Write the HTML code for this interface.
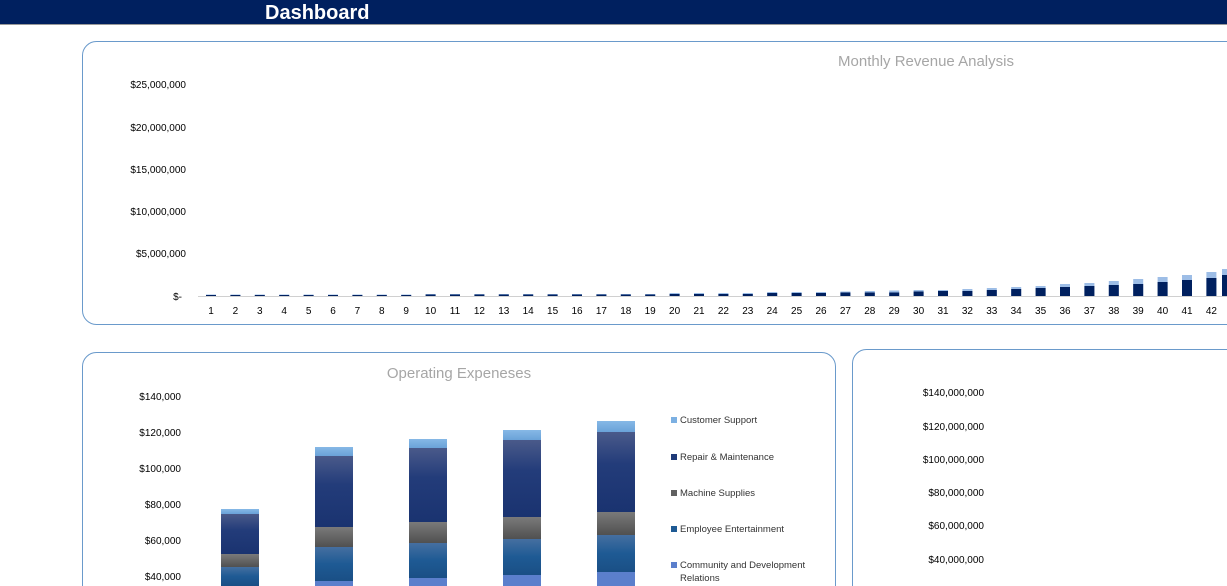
<!DOCTYPE html>
<html><head><meta charset="utf-8"><style>
body{margin:0;width:1227px;height:586px;overflow:hidden;background:#fff;font-family:"Liberation Sans",Calibri,sans-serif}
svg{position:absolute;left:0;top:0}
</style></head><body>
<svg width="1227" height="586" xmlns="http://www.w3.org/2000/svg" font-family="Liberation Sans, sans-serif">
<defs>
<linearGradient id="gn" x1="0" y1="0" x2="0" y2="1"><stop offset="0" stop-color="#4a5a8a"/><stop offset="0.4" stop-color="#233c7a"/><stop offset="1" stop-color="#1a3370"/></linearGradient>
<linearGradient id="gg" x1="0" y1="0" x2="0" y2="1"><stop offset="0" stop-color="#7a7a7a"/><stop offset="1" stop-color="#505050"/></linearGradient>
<linearGradient id="gb" x1="0" y1="0" x2="0" y2="1"><stop offset="0" stop-color="#456fa0"/><stop offset="0.5" stop-color="#1e5a94"/><stop offset="1" stop-color="#1a4f85"/></linearGradient>
<linearGradient id="gl" x1="0" y1="0" x2="0" y2="1"><stop offset="0" stop-color="#86b8e6"/><stop offset="1" stop-color="#6aa2d8"/></linearGradient>
</defs>
<rect x="0" y="0" width="1227" height="24" fill="#00205f"/>
<line x1="0" y1="24.5" x2="1227" y2="24.5" stroke="#999"/>
<text x="265" y="19" fill="#fff" font-size="20" font-weight="bold">Dashboard</text>

<rect x="82.5" y="41.5" width="1160" height="283" rx="14" fill="#fff" stroke="#6a9acb"/>
<text x="926" y="66" fill="#a6a6a6" font-size="15" text-anchor="middle">Monthly Revenue Analysis</text>
<g font-size="10" fill="#000" text-anchor="end">
<text x="186" y="88">$25,000,000</text><text x="186" y="131">$20,000,000</text><text x="186" y="173">$15,000,000</text><text x="186" y="215">$10,000,000</text><text x="186" y="257">$5,000,000</text><text x="182" y="300">$-</text>
</g>
<line x1="198" y1="296.5" x2="1227" y2="296.5" stroke="#d0d0d0"/>
<g font-size="10" text-anchor="middle">
<text x="211" y="314">1</text><text x="235.4" y="314">2</text><text x="259.8" y="314">3</text><text x="284.2" y="314">4</text><text x="308.6" y="314">5</text><text x="333" y="314">6</text><text x="357.4" y="314">7</text><text x="381.8" y="314">8</text><text x="406.2" y="314">9</text><text x="430.6" y="314">10</text><text x="455" y="314">11</text><text x="479.4" y="314">12</text><text x="503.8" y="314">13</text><text x="528.2" y="314">14</text><text x="552.6" y="314">15</text><text x="577" y="314">16</text><text x="601.4" y="314">17</text><text x="625.8" y="314">18</text><text x="650.2" y="314">19</text><text x="674.6" y="314">20</text><text x="699" y="314">21</text><text x="723.4" y="314">22</text><text x="747.8" y="314">23</text><text x="772.2" y="314">24</text><text x="796.6" y="314">25</text><text x="821" y="314">26</text><text x="845.4" y="314">27</text><text x="869.8" y="314">28</text><text x="894.2" y="314">29</text><text x="918.6" y="314">30</text><text x="943" y="314">31</text><text x="967.4" y="314">32</text><text x="991.8" y="314">33</text><text x="1016.2" y="314">34</text><text x="1040.6" y="314">35</text><text x="1065" y="314">36</text><text x="1089.4" y="314">37</text><text x="1113.8" y="314">38</text><text x="1138.2" y="314">39</text><text x="1162.6" y="314">40</text><text x="1187" y="314">41</text><text x="1211.4" y="314">42</text><text x="1235.8" y="314">43</text>
</g>
<g>
<!-- bars: light total then navy -->
<g fill="#9dbde6">
<rect x="206" y="294.5" width="10" height="1.5"/><rect x="230.4" y="294.5" width="10" height="1.5"/><rect x="254.8" y="294.5" width="10" height="1.5"/><rect x="279.2" y="294.5" width="10" height="1.5"/><rect x="303.6" y="294.5" width="10" height="1.5"/><rect x="328" y="294.5" width="10" height="1.5"/><rect x="352.4" y="294.5" width="10" height="1.5"/><rect x="376.8" y="294.5" width="10" height="1.5"/><rect x="401.2" y="294.5" width="10" height="1.5"/><rect x="425.6" y="294" width="10" height="2"/><rect x="450" y="294" width="10" height="2"/><rect x="474.4" y="294" width="10" height="2"/><rect x="498.8" y="294" width="10" height="2"/><rect x="523.2" y="294" width="10" height="2"/><rect x="547.6" y="294" width="10" height="2"/><rect x="572" y="294" width="10" height="2"/><rect x="596.4" y="294" width="10" height="2"/><rect x="620.8" y="294" width="10" height="2"/><rect x="645.2" y="294" width="10" height="2"/>
<rect x="669.6" y="293" width="10" height="3"/><rect x="694" y="293" width="10" height="3"/><rect x="718.4" y="293" width="10" height="3"/><rect x="742.8" y="293" width="10" height="3"/><rect x="767.2" y="292" width="10" height="4"/><rect x="791.6" y="292" width="10" height="4"/><rect x="816" y="292" width="10" height="4"/><rect x="840.4" y="291.5" width="10" height="4.5"/><rect x="864.8" y="291" width="10" height="5"/><rect x="889.2" y="290.5" width="10" height="5.5"/><rect x="913.6" y="290" width="10" height="6"/><rect x="938" y="290" width="10" height="6"/><rect x="962.4" y="289" width="10" height="7"/><rect x="986.8" y="288" width="10" height="8"/><rect x="1011.2" y="287" width="10" height="9"/><rect x="1035.6" y="286" width="10" height="10"/><rect x="1060" y="284" width="10" height="12"/><rect x="1084.4" y="283" width="10" height="13"/><rect x="1108.8" y="281" width="10" height="15"/><rect x="1133.2" y="279" width="10" height="17"/><rect x="1157.6" y="277" width="10" height="19"/><rect x="1182" y="275" width="10" height="21"/><rect x="1206.4" y="272" width="10" height="24"/><rect x="1222" y="269" width="10" height="27"/>
</g>
<g fill="#00205f">
<rect x="206" y="295" width="10" height="1"/><rect x="230.4" y="295" width="10" height="1"/><rect x="254.8" y="295" width="10" height="1"/><rect x="279.2" y="295" width="10" height="1"/><rect x="303.6" y="295" width="10" height="1"/><rect x="328" y="295" width="10" height="1"/><rect x="352.4" y="295" width="10" height="1"/><rect x="376.8" y="295" width="10" height="1"/><rect x="401.2" y="295" width="10" height="1"/><rect x="425.6" y="294.5" width="10" height="1.5"/><rect x="450" y="294.5" width="10" height="1.5"/><rect x="474.4" y="294.5" width="10" height="1.5"/><rect x="498.8" y="294.5" width="10" height="1.5"/><rect x="523.2" y="294.5" width="10" height="1.5"/><rect x="547.6" y="294.5" width="10" height="1.5"/><rect x="572" y="294.5" width="10" height="1.5"/><rect x="596.4" y="294.5" width="10" height="1.5"/><rect x="620.8" y="294.5" width="10" height="1.5"/><rect x="645.2" y="294.5" width="10" height="1.5"/>
<rect x="669.6" y="294" width="10" height="2"/><rect x="694" y="294" width="10" height="2"/><rect x="718.4" y="294" width="10" height="2"/><rect x="742.8" y="294" width="10" height="2"/><rect x="767.2" y="293" width="10" height="3"/><rect x="791.6" y="293" width="10" height="3"/><rect x="816" y="293" width="10" height="3"/><rect x="840.4" y="292.5" width="10" height="3.5"/><rect x="864.8" y="292.5" width="10" height="3.5"/><rect x="889.2" y="292.5" width="10" height="3.5"/><rect x="913.6" y="291.5" width="10" height="4.5"/><rect x="938" y="291" width="10" height="5"/><rect x="962.4" y="291" width="10" height="5"/><rect x="986.8" y="290" width="10" height="6"/><rect x="1011.2" y="289" width="10" height="7"/><rect x="1035.6" y="288" width="10" height="8"/><rect x="1060" y="287" width="10" height="9"/><rect x="1084.4" y="286" width="10" height="10"/><rect x="1108.8" y="285" width="10" height="11"/><rect x="1133.2" y="284" width="10" height="12"/><rect x="1157.6" y="282" width="10" height="14"/><rect x="1182" y="280" width="10" height="16"/><rect x="1206.4" y="278" width="10" height="18"/><rect x="1222" y="275" width="10" height="21"/>
</g>
</g>

<rect x="82.5" y="352.5" width="753" height="260" rx="14" fill="#fff" stroke="#6a9acb"/>
<text x="459" y="378" fill="#a6a6a6" font-size="15" text-anchor="middle">Operating Expeneses</text>
<g font-size="10" text-anchor="end">
<text x="181" y="400">$140,000</text><text x="181" y="436">$120,000</text><text x="181" y="472">$100,000</text><text x="181" y="508">$80,000</text><text x="181" y="544">$60,000</text><text x="181" y="580">$40,000</text>
</g>
<g>
<!-- bar1 -->
<rect x="221" y="509" width="38" height="5" fill="url(#gl)"/><rect x="221" y="514" width="38" height="40" fill="url(#gn)"/><rect x="221" y="554" width="38" height="13" fill="url(#gg)"/><rect x="221" y="567" width="38" height="19" fill="url(#gb)"/>
<rect x="315" y="447" width="38" height="9" fill="url(#gl)"/><rect x="315" y="456" width="38" height="71" fill="url(#gn)"/><rect x="315" y="527" width="38" height="20" fill="url(#gg)"/><rect x="315" y="547" width="38" height="34" fill="url(#gb)"/><rect x="315" y="581" width="38" height="5" fill="#5b7fcc"/>
<rect x="409" y="439" width="38" height="9" fill="url(#gl)"/><rect x="409" y="448" width="38" height="74" fill="url(#gn)"/><rect x="409" y="522" width="38" height="21" fill="url(#gg)"/><rect x="409" y="543" width="38" height="35" fill="url(#gb)"/><rect x="409" y="578" width="38" height="8" fill="#5b7fcc"/>
<rect x="503" y="430" width="38" height="10" fill="url(#gl)"/><rect x="503" y="440" width="38" height="77" fill="url(#gn)"/><rect x="503" y="517" width="38" height="22" fill="url(#gg)"/><rect x="503" y="539" width="38" height="36" fill="url(#gb)"/><rect x="503" y="575" width="38" height="11" fill="#5b7fcc"/>
<rect x="597" y="421" width="38" height="11" fill="url(#gl)"/><rect x="597" y="432" width="38" height="80" fill="url(#gn)"/><rect x="597" y="512" width="38" height="23" fill="url(#gg)"/><rect x="597" y="535" width="38" height="37" fill="url(#gb)"/><rect x="597" y="572" width="38" height="14" fill="#5b7fcc"/>
</g>
<g font-size="9.5" fill="#333">
<rect x="671" y="417" width="6" height="6" fill="#7cb0e2"/><text x="680" y="423">Customer Support</text>
<rect x="671" y="454" width="6" height="6" fill="#1f3a78"/><text x="680" y="460">Repair &amp; Maintenance</text>
<rect x="671" y="490" width="6" height="6" fill="#606060"/><text x="680" y="496">Machine Supplies</text>
<rect x="671" y="526" width="6" height="6" fill="#1e5a94"/><text x="680" y="532">Employee Entertainment</text>
<rect x="671" y="562" width="6" height="6" fill="#5b7fcc"/><text x="680" y="568">Community and Development</text><text x="680" y="581">Relations</text>
</g>

<rect x="852.5" y="349.5" width="400" height="260" rx="14" fill="#fff" stroke="#6a9acb"/>
<g font-size="10" text-anchor="end">
<text x="984" y="396">$140,000,000</text><text x="984" y="430">$120,000,000</text><text x="984" y="463">$100,000,000</text><text x="984" y="496">$80,000,000</text><text x="984" y="529">$60,000,000</text><text x="984" y="563">$40,000,000</text>
</g>
</svg>
</body></html>
